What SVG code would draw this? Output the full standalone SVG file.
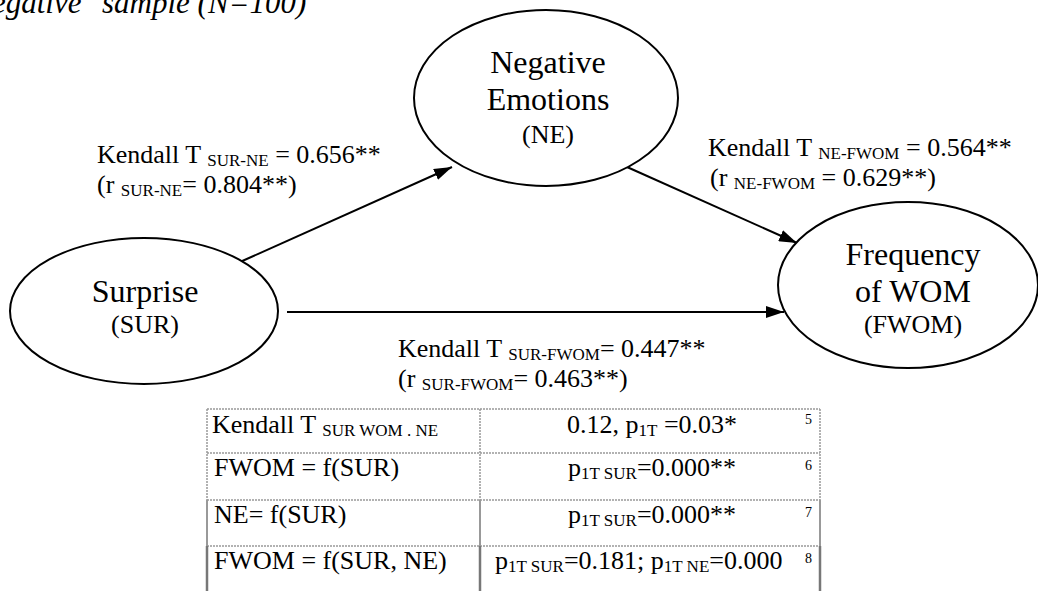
<svg xmlns="http://www.w3.org/2000/svg" width="1038" height="591" viewBox="0 0 1038 591">
<style>
text{font-family:"Liberation Serif","Times New Roman",serif;fill:#000}
.node{font-size:32px}
.abbr{font-size:26px}
.lbl{font-size:26px}
.sub{font-size:17px}
.tbl{font-size:26px}
.num{font-size:14px}
.ell{fill:#fff;stroke:#000;stroke-width:2}
.edge{stroke:#000;stroke-width:2;fill:none}
.grid{stroke:#999;stroke-width:1.5;stroke-dasharray:2 1;fill:none}
.solid{stroke:#999;stroke-width:2;fill:none}
.dark{stroke:#777;stroke-width:2.5;fill:none}
</style>
<defs>
<marker id="arr" markerUnits="userSpaceOnUse" markerWidth="18" markerHeight="12" refX="18" refY="6" orient="auto">
<path d="M0,0 L18,6 L0,12 z" fill="#000"/>
</marker>
</defs>
<rect width="1038" height="591" fill="#fff"/>
<text x="-8" y="13" style="font-size:31px;font-style:italic">egative<tspan x="102">sample (N=100)</tspan></text>

<g id="connectors">
<line class="edge" x1="240" y1="262" x2="452" y2="167" marker-end="url(#arr)"/>
<line class="edge" x1="627" y1="167" x2="797" y2="243" marker-end="url(#arr)"/>
<line class="edge" x1="287" y1="312" x2="784" y2="312" marker-end="url(#arr)"/>
</g>

<g id="node-ne">
<ellipse class="ell" cx="546" cy="98" rx="132" ry="88"/>
<text class="node" x="548" y="73" text-anchor="middle">Negative</text>
<text class="node" x="548" y="110" text-anchor="middle">Emotions</text>
<text class="abbr" x="548" y="143" text-anchor="middle">(NE)</text>
</g>

<g id="node-sur">
<ellipse class="ell" cx="144" cy="311" rx="134" ry="73"/>
<text class="node" x="145" y="302" text-anchor="middle">Surprise</text>
<text class="abbr" x="145" y="333" text-anchor="middle">(SUR)</text>
</g>

<g id="node-fwom">
<ellipse class="ell" cx="908" cy="285" rx="130" ry="83"/>
<text class="node" x="913" y="265" text-anchor="middle">Frequency</text>
<text class="node" x="913" y="302" text-anchor="middle">of WOM</text>
<text class="abbr" x="913" y="333" text-anchor="middle">(FWOM)</text>
</g>

<g id="label-sur-ne">
<text class="lbl" x="97" y="163">Kendall T <tspan class="sub" dy="3">SUR-NE</tspan><tspan dy="-3"> = 0.656**</tspan></text>
<text class="lbl" x="97" y="193">(r <tspan class="sub" dy="3">SUR-NE</tspan><tspan dy="-3">= 0.804**)</tspan></text>
</g>
<g id="label-ne-fwom">
<text class="lbl" x="708" y="156">Kendall T <tspan class="sub" dy="3">NE-FWOM</tspan><tspan dy="-3"> = 0.564**</tspan></text>
<text class="lbl" x="710" y="186">(r <tspan class="sub" dy="3">NE-FWOM</tspan><tspan dy="-3"> = 0.629**)</tspan></text>
</g>
<g id="label-sur-fwom">
<text class="lbl" x="398" y="357">Kendall T <tspan class="sub" dy="3">SUR-FWOM</tspan><tspan dy="-3">= 0.447**</tspan></text>
<text class="lbl" x="398" y="387">(r <tspan class="sub" dy="3">SUR-FWOM</tspan><tspan dy="-3">= 0.463**)</tspan></text>
</g>

<g id="table">
<line class="grid" x1="207" y1="409" x2="820" y2="409"/>
<line class="grid" x1="207" y1="453" x2="820" y2="453"/>
<line class="grid" x1="207" y1="500" x2="820" y2="500"/>
<line class="grid" x1="207" y1="546" x2="820" y2="546"/>
<line class="grid" x1="207" y1="409" x2="207" y2="500"/>
<line class="grid" x1="480" y1="409" x2="480" y2="500"/>
<line class="grid" x1="820" y1="409" x2="820" y2="500"/>
<line class="solid" x1="207" y1="500" x2="207" y2="546"/>
<line class="solid" x1="480" y1="500" x2="480" y2="546"/>
<line class="solid" x1="820" y1="500" x2="820" y2="546"/>
<line class="dark" x1="207" y1="546" x2="207" y2="591"/>
<line class="dark" x1="480" y1="546" x2="480" y2="591"/>
<line class="dark" x1="820" y1="546" x2="820" y2="591"/>

<text class="tbl" x="212" y="433">Kendall T <tspan class="sub" dy="3">SUR WOM . NE</tspan></text>
<text class="tbl" x="567" y="433">0.12, p<tspan class="sub" dy="3">1T</tspan><tspan dy="-3"> =0.03*</tspan></text>
<text class="num" x="805" y="424">5</text>

<text class="tbl" x="214" y="476">FWOM = f(SUR)</text>
<text class="tbl" x="568" y="476">p<tspan class="sub" dy="3">1T SUR</tspan><tspan dy="-3">=0.000**</tspan></text>
<text class="num" x="805" y="470">6</text>

<text class="tbl" x="214" y="523">NE= f(SUR)</text>
<text class="tbl" x="568" y="523">p<tspan class="sub" dy="3">1T SUR</tspan><tspan dy="-3">=0.000**</tspan></text>
<text class="num" x="805" y="517">7</text>

<text class="tbl" x="214" y="569">FWOM = f(SUR, NE)</text>
<text class="tbl" x="495" y="569">p<tspan class="sub" dy="3">1T SUR</tspan><tspan dy="-3">=0.181; p</tspan><tspan class="sub" dy="3">1T NE</tspan><tspan dy="-3">=0.000</tspan></text>
<text class="num" x="805" y="563">8</text>
</g>
</svg>
